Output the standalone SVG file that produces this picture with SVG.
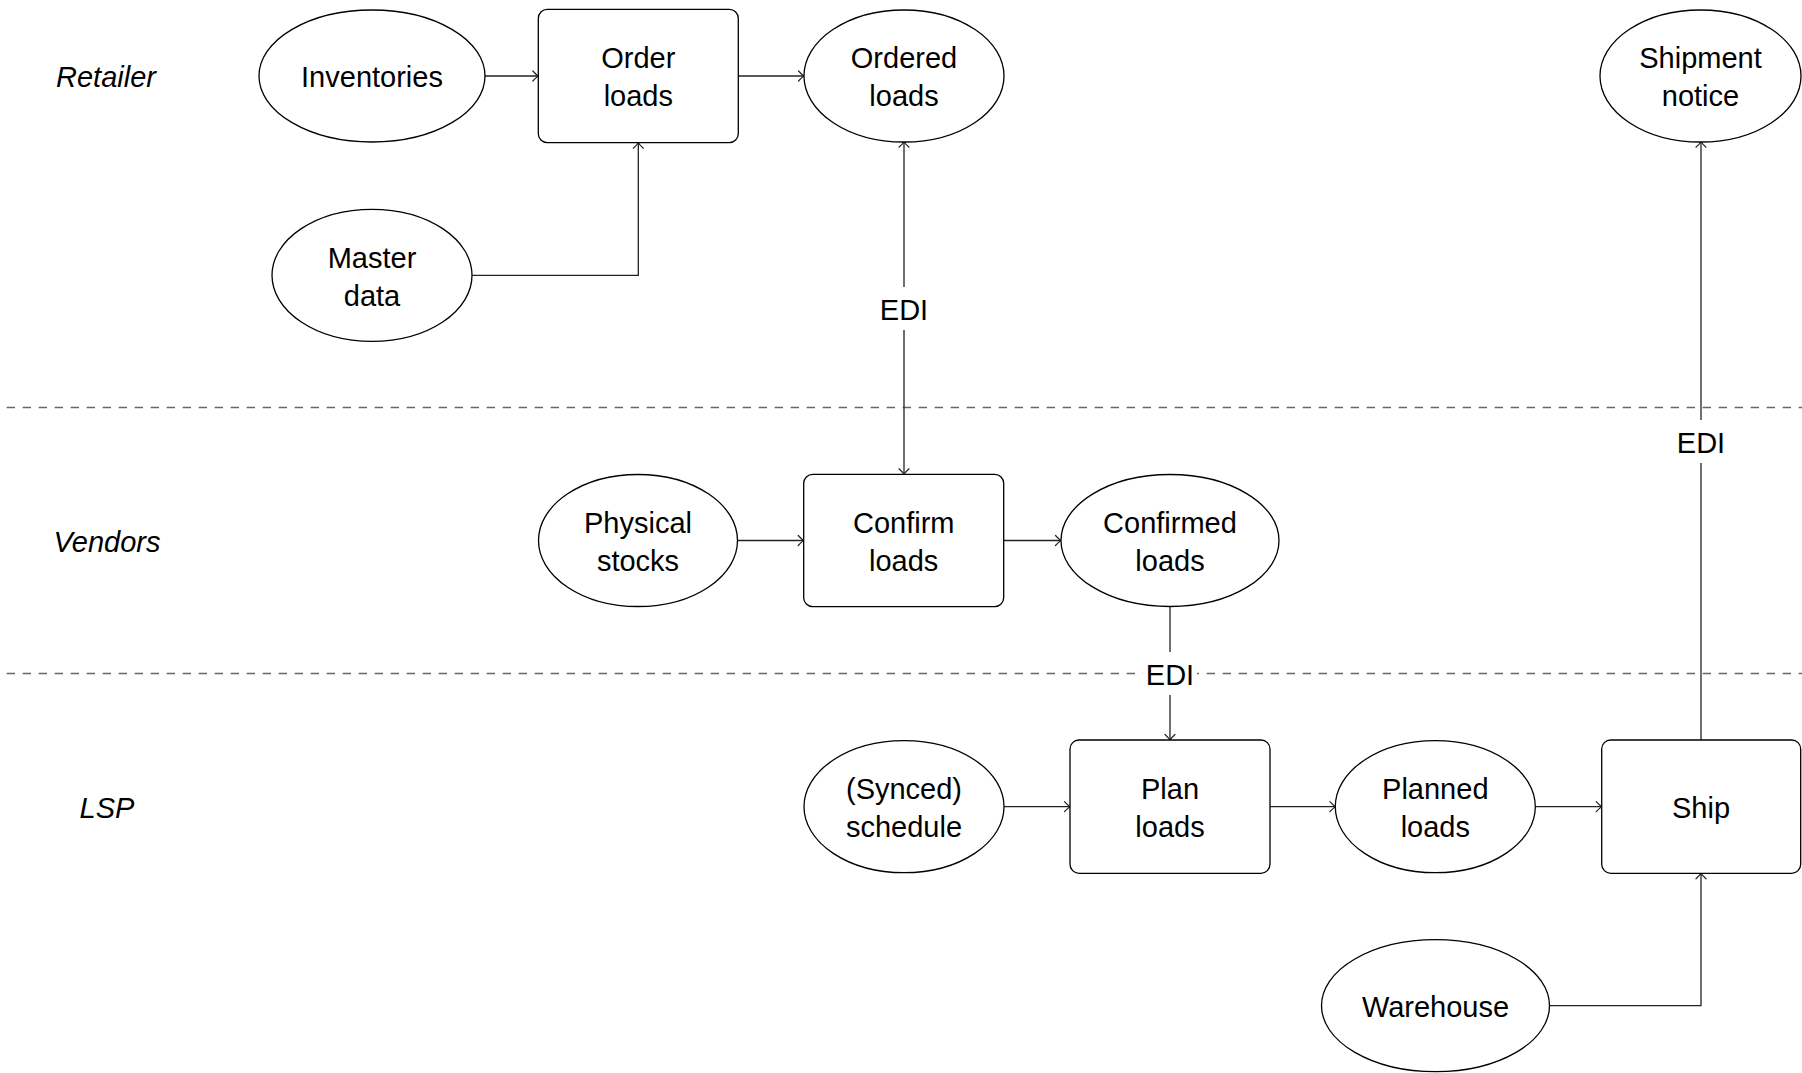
<svg xmlns="http://www.w3.org/2000/svg" width="1802" height="1073" viewBox="0 0 1802 1073">
<style>
  .n { fill: #fff; stroke: #000; stroke-width: 1.3; }
  .t { font-family: "Liberation Sans", Arial, sans-serif; font-size: 29px; fill: #000; text-anchor: middle; }
  .lane { font-family: "Liberation Sans", Arial, sans-serif; font-size: 29px; font-style: italic; fill: #000; text-anchor: middle; }
  .e { fill: none; stroke: #222; stroke-width: 1.3; }
  .sep { fill: none; stroke: #666; stroke-width: 1.3; stroke-dasharray: 8.3 7.7; stroke-dashoffset: 9.3; }
  .lbg { fill: #fff; stroke: none; }
</style>
<defs>
  <marker id="arr" viewBox="-7 -7 9 14" markerWidth="9" markerHeight="14" refX="0" refY="0" orient="auto-start-reverse" markerUnits="userSpaceOnUse">
    <path d="M -5.5 -5 Q -2 -1.2 0 0 Q -2 1.2 -5.5 5" fill="none" stroke="#222" stroke-width="1.2" stroke-linecap="round"/>
  </marker>
</defs>
<rect width="1802" height="1073" fill="#fff"/>

<g id="separators">
  <line class="sep" x1="0" y1="407.5" x2="1802" y2="407.5"/>
  <line class="sep" x1="0" y1="673.5" x2="1802" y2="673.5"/>
</g>

<g id="lanes">
  <text class="lane" x="106" y="87">Retailer</text>
  <text class="lane" x="107" y="552">Vendors</text>
  <text class="lane" x="107" y="818">LSP</text>
</g>

<g id="connectors">
  <path class="e" d="M 485 76 L 538.3 76" marker-end="url(#arr)"/>
  <path class="e" d="M 738.3 76 L 804 76" marker-end="url(#arr)"/>
  <path class="e" d="M 472 275.3 L 638.3 275.3 L 638.3 142.7" marker-end="url(#arr)"/>
  <path class="e" d="M 904 141.7 L 904 474.3" marker-start="url(#arr)" marker-end="url(#arr)"/>
  <path class="e" d="M 737.5 540.5 L 803.7 540.5" marker-end="url(#arr)"/>
  <path class="e" d="M 1003.7 540.5 L 1061 540.5" marker-end="url(#arr)"/>
  <path class="e" d="M 1170 606.7 L 1170 740" marker-end="url(#arr)"/>
  <path class="e" d="M 1004 806.7 L 1070 806.7" marker-end="url(#arr)"/>
  <path class="e" d="M 1270 806.7 L 1335.4 806.7" marker-end="url(#arr)"/>
  <path class="e" d="M 1535.3 806.7 L 1601.7 806.7" marker-end="url(#arr)"/>
  <path class="e" d="M 1549.3 1005.7 L 1701 1005.7 L 1701 873.3" marker-end="url(#arr)"/>
  <path class="e" d="M 1701 740 L 1701 141.7" marker-end="url(#arr)"/>
  <g id="edge-labels">
    <rect class="lbg" x="877" y="287" width="54" height="43"/>
    <text class="t" x="904" y="319.5">EDI</text>
    <rect class="lbg" x="1143" y="652" width="54" height="43"/>
    <text class="t" x="1170" y="684.5">EDI</text>
    <rect class="lbg" x="1674" y="420" width="54" height="43"/>
    <text class="t" x="1701" y="452.5">EDI</text>
  </g>
</g>

<g id="inventories">
  <ellipse class="n" cx="372" cy="76" rx="113" ry="66"/>
  <text class="t" x="372" y="87">Inventories</text>
</g>
<g id="order-loads">
  <rect class="n" x="538.3" y="9.3" width="200" height="133.4" rx="9"/>
  <text class="t" x="638.3" y="68">Order</text>
  <text class="t" x="638.3" y="106">loads</text>
</g>
<g id="ordered-loads">
  <ellipse class="n" cx="904" cy="76" rx="100" ry="66"/>
  <text class="t" x="904" y="68">Ordered</text>
  <text class="t" x="904" y="106">loads</text>
</g>
<g id="shipment-notice">
  <ellipse class="n" cx="1700.5" cy="76" rx="100.5" ry="66"/>
  <text class="t" x="1700.5" y="68">Shipment</text>
  <text class="t" x="1700.5" y="106">notice</text>
</g>
<g id="master-data">
  <ellipse class="n" cx="372" cy="275.3" rx="100" ry="66"/>
  <text class="t" x="372" y="267.5">Master</text>
  <text class="t" x="372" y="305.5">data</text>
</g>
<g id="physical-stocks">
  <ellipse class="n" cx="638" cy="540.5" rx="99.5" ry="66"/>
  <text class="t" x="638" y="532.5">Physical</text>
  <text class="t" x="638" y="570.5">stocks</text>
</g>
<g id="confirm-loads">
  <rect class="n" x="803.7" y="474.3" width="200" height="132.4" rx="9"/>
  <text class="t" x="903.7" y="532.5">Confirm</text>
  <text class="t" x="903.7" y="570.5">loads</text>
</g>
<g id="confirmed-loads">
  <ellipse class="n" cx="1170" cy="540.5" rx="109" ry="66"/>
  <text class="t" x="1170" y="532.5">Confirmed</text>
  <text class="t" x="1170" y="570.5">loads</text>
</g>
<g id="synced-schedule">
  <ellipse class="n" cx="904" cy="806.7" rx="100" ry="66"/>
  <text class="t" x="904" y="798.7">(Synced)</text>
  <text class="t" x="904" y="836.7">schedule</text>
</g>
<g id="plan-loads">
  <rect class="n" x="1070" y="740" width="200" height="133.3" rx="9"/>
  <text class="t" x="1170" y="798.7">Plan</text>
  <text class="t" x="1170" y="836.7">loads</text>
</g>
<g id="planned-loads">
  <ellipse class="n" cx="1435.3" cy="806.7" rx="100" ry="66"/>
  <text class="t" x="1435.3" y="798.7">Planned</text>
  <text class="t" x="1435.3" y="836.7">loads</text>
</g>
<g id="ship">
  <rect class="n" x="1601.7" y="740" width="199" height="133.3" rx="9"/>
  <text class="t" x="1701" y="817.7">Ship</text>
</g>
<g id="warehouse">
  <ellipse class="n" cx="1435.5" cy="1005.7" rx="114" ry="66"/>
  <text class="t" x="1435.5" y="1016.7">Warehouse</text>
</g>
</svg>
